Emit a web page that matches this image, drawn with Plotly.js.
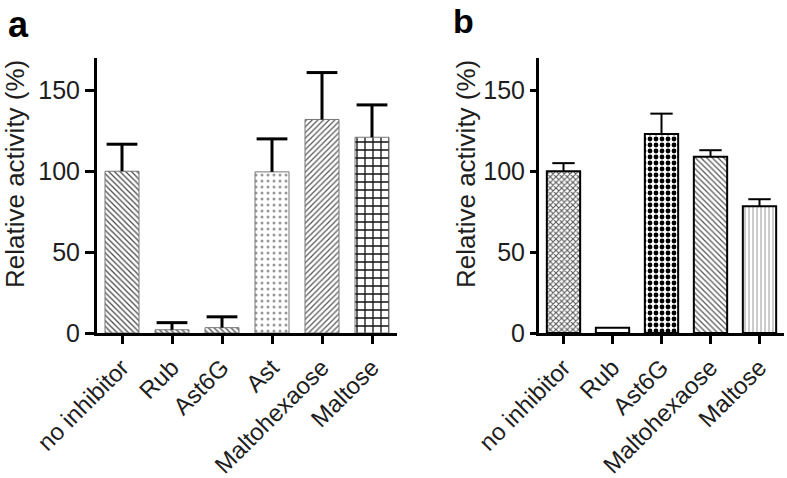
<!DOCTYPE html>
<html><head><meta charset="utf-8">
<script src="https://cdn.plot.ly/plotly-3.0.1.min.js"></script>
<style>html,body{margin:0;padding:0;background:#fff;}#chart{width:787px;height:478px;}</style>
</head><body><div id="chart"></div>
<script>
// Panel a
const catsA = ["no inhibitor", "Rub", "Ast6G", "Ast", "Maltohexaose", "Maltose"];
const valsA = [100, 2, 3.3, 99.6, 132, 121];
const errA  = [16.7, 4.4, 6.7, 20.4, 29, 20];
// Panel b
const catsB = ["no inhibitor", "Rub", "Ast6G", "Maltohexaose", "Maltose"];
const valsB = [100, 3.3, 123, 109, 78.4];
const errB  = [5, 0, 12.6, 4, 4.3];
const yTicks = [0, 50, 100, 150];
const yTitle = "Relative activity (%)";

const FAM = "Liberation Sans, Arial, sans-serif";
const font = (s) => ({family: FAM, size: s, color: "#1e1e1e"});

const barA = {
  type: "bar", x: catsA, y: valsA, xaxis: "x", yaxis: "y", width: 0.68,
  marker: {
    color: "white",
    line: {color: "#777", width: 1},
    pattern: {
      shape: ["\\", "\\", "\\", ".", "/", "+"],
      size: [4, 4, 4, 6, 4, 8],
      solidity: [0.3, 0.3, 0.3, 0.2, 0.3, 0.3],
      fgcolor: ["#444", "#444", "#444", "#999", "#555", "#111"],
      bgcolor: "white", fillmode: "replace"
    }
  },
  error_y: {type: "data", symmetric: false, array: errA, arrayminus: errA.map(() => 0),
            color: "#000", thickness: 3, width: 0}
};
const capA = {
  type: "scatter", mode: "markers", xaxis: "x", yaxis: "y",
  x: catsA, y: valsA.map((v, i) => v + errA[i]),
  marker: {symbol: "line-ew", size: 22, color: "#000", line: {color: "#000", width: 3}}
};
const barB = {
  type: "bar", x: catsB, y: valsB, xaxis: "x2", yaxis: "y2", width: 0.68,
  marker: {
    color: "white",
    line: {color: "#000", width: 2},
    pattern: {
      shape: ["x", "", ".", "\\", "|"],
      size: [4, 6, 6, 4, 4],
      solidity: [0.45, 0.3, 0.5, 0.3, 0.25],
      fgcolor: ["#555", "#fff", "#000", "#555", "#999"],
      bgcolor: "white", fillmode: "replace"
    }
  },
  error_y: {type: "data", symmetric: false, array: errB, arrayminus: errB.map(() => 0),
            color: "#000", thickness: 2, width: 0}
};
const capB = {
  type: "scatter", mode: "markers", xaxis: "x2", yaxis: "y2",
  x: catsB.filter((c, i) => errB[i] > 0), y: valsB.map((v, i) => v + errB[i]).filter((v, i) => errB[i] > 0),
  marker: {symbol: "line-ew", size: 16, color: "#000", line: {color: "#000", width: 2}}
};

const yax = (anchor, tl) => ({
  anchor: anchor, range: [0, 170], domain: [1 - 333/478, 1 - 58/478],
  tickvals: yTicks, ticktext: yTicks.map(String),
  showgrid: false, zeroline: false, showline: true, linecolor: "#000", linewidth: 3,
  ticks: "outside", ticklen: tl, tickwidth: 3, tickcolor: "#000",
  tickfont: font(25), fixedrange: true
});
const xax = (anchor, domain) => ({
  anchor: anchor, domain: domain, type: "category",
  showgrid: false, zeroline: false, showline: true, linecolor: "#000", linewidth: 3,
  ticks: "outside", ticklen: 8, tickwidth: 3, tickcolor: "#000",
  tickangle: -45, tickfont: font(24), fixedrange: true
});

const layout = {
  width: 787, height: 478, margin: {l: 0, r: 0, t: 0, b: 0},
  paper_bgcolor: "white", plot_bgcolor: "white", showlegend: false,
  xaxis: Object.assign(xax("y", [97/787, 397/787]), {range: [-0.5, 5.5]}),
  yaxis: yax("x", 9),
  xaxis2: Object.assign(xax("y2", [539/787, 784/787]), {range: [-0.5, 4.5]}),
  yaxis2: yax("x2", 6),
  annotations: [
    {text: "<b>a</b>", x: 6/787, y: 1 - 2/478, xref: "paper", yref: "paper", xanchor: "left", yanchor: "top",
     showarrow: false, font: {family: FAM, size: 36, color: "#000"}},
    {text: "<b>b</b>", x: 451/787, y: 1 - 0/478, xref: "paper", yref: "paper", xanchor: "left", yanchor: "top",
     showarrow: false, font: {family: FAM, size: 34, color: "#000"}},
    {text: yTitle, textangle: -90, x: 15/787, y: 1 - 174/478, xref: "paper", yref: "paper",
     xanchor: "center", yanchor: "middle", showarrow: false, font: font(26)},
    {text: yTitle, textangle: -90, x: 466/787, y: 1 - 174/478, xref: "paper", yref: "paper",
     xanchor: "center", yanchor: "middle", showarrow: false, font: font(26)}
  ]
};

Plotly.newPlot("chart", [barA, capA, barB, capB], layout, {displayModeBar: false, staticPlot: true});
</script></body></html>
